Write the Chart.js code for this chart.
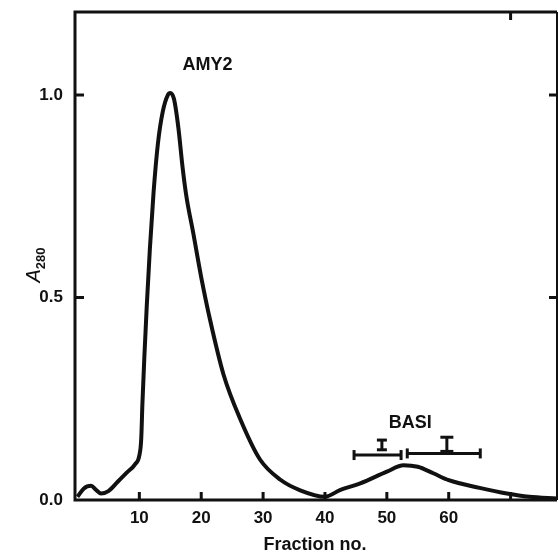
<!DOCTYPE html>
<html>
<head>
<meta charset="utf-8">
<script src="https://cdn.jsdelivr.net/npm/chart.js@4.4.1/dist/chart.umd.min.js"></script>
<style>
  html, body { margin: 0; padding: 0; background: #fff; }
  #wrap { width: 558px; height: 554px; }
</style>
</head>
<body>
<div id="wrap"><canvas id="chart" width="558" height="554"></canvas></div>
<script>
// elution profile
const fractions = [0, 1, 2.2, 3.0, 3.8, 5, 6.5, 8, 9.3, 10, 10.3, 10.5, 10.8, 11.2, 11.7, 12.3, 13.0, 13.8, 14.6, 15.0, 15.6, 16.3, 17.0, 17.6, 18.7, 20.0, 21.5, 23.6, 26.3, 29.5, 32.8, 36, 40, 42.5, 45.7, 50, 52.7, 55, 57.5, 60, 65, 69.4, 73, 77.5];
const absorbance = [0.008, 0.028, 0.035, 0.025, 0.016, 0.022, 0.045, 0.068, 0.088, 0.11, 0.15, 0.24, 0.35, 0.48, 0.62, 0.76, 0.88, 0.96, 1.0, 1.005, 0.99, 0.92, 0.82, 0.75, 0.66, 0.55, 0.44, 0.31, 0.2, 0.1, 0.05, 0.024, 0.008, 0.025, 0.041, 0.07, 0.086, 0.082, 0.066, 0.049, 0.03, 0.016, 0.008, 0.004];

const xTickValues = [10, 20, 30, 40, 50, 60, 70];
const xTickLabels = ['10', '20', '30', '40', '50', '60', ''];
const yTickValues = [0, 0.5, 1.0];
const yTickLabels = ['0.0', '0.5', '1.0'];
const yInnerTicks = [0.5, 1.0];
const topInnerTicks = [70];

// pooled fractions (bars) and activity markers above BASI
const poolLeftX = [44.7, 52.3];
const poolLeftY = [0.111, 0.111];
const poolRightX = [53.3, 65.1];
const poolRightY = [0.115, 0.115];
const markLeftX = [49.2, 49.2];
const markLeftY = [0.124, 0.148];
const markRightX = [59.7, 59.7];
const markRightY = [0.12, 0.155];

const peakNames = ['AMY2', 'BASI'];
const peakNameX = [21, 53.8];
const peakNameY = [1.075, 0.19];

const FONT = '"Liberation Sans", Arial, sans-serif';
const INK = '#111';

function pts(xs, ys) {
    return xs.map((x, i) => ({ x: x, y: ys[i] }));
}

// рамка, внутренние засечки и подписи
const framePlugin = {
    id: 'frame',
    afterDatasetsDraw(chart) {
        const ctx = chart.ctx;
        const a = chart.chartArea;
        const xs = chart.scales.x;
        const ys = chart.scales.y;
        ctx.save();
        ctx.strokeStyle = INK;
        ctx.lineCap = 'butt';

        // left + bottom + top
        ctx.lineWidth = 3;
        ctx.beginPath();
        ctx.moveTo(a.left, a.top);
        ctx.lineTo(a.left, a.bottom);
        ctx.lineTo(a.right, a.bottom);
        ctx.moveTo(a.left - 1.5, a.top);
        ctx.lineTo(a.right, a.top);
        ctx.stroke();
        // right side, thinner
        ctx.lineWidth = 2;
        ctx.beginPath();
        ctx.moveTo(a.right, a.top);
        ctx.lineTo(a.right, a.bottom);
        ctx.stroke();

        ctx.lineWidth = 3;
        ctx.beginPath();
        xTickValues.forEach(v => {
            const px = xs.getPixelForValue(v);
            ctx.moveTo(px, a.bottom);
            ctx.lineTo(px, a.bottom - 8);
        });
        topInnerTicks.forEach(v => {
            const px = xs.getPixelForValue(v);
            ctx.moveTo(px, a.top);
            ctx.lineTo(px, a.top + 8);
        });
        yInnerTicks.forEach(v => {
            const py = ys.getPixelForValue(v);
            ctx.moveTo(a.left, py);
            ctx.lineTo(a.left + 9, py);
            ctx.moveTo(a.right, py);
            ctx.lineTo(a.right - 8, py);
        });
        ctx.stroke();

        // peak names
        ctx.fillStyle = INK;
        ctx.textAlign = 'center';
        ctx.textBaseline = 'middle';
        ctx.font = 'bold 18px ' + FONT;
        peakNames.forEach((name, i) => {
            ctx.fillText(name, xs.getPixelForValue(peakNameX[i]), ys.getPixelForValue(peakNameY[i]));
        });

        // x title
        ctx.fillText('Fraction no.', 315, 545);

        // y title A280
        ctx.translate(33, 265);
        ctx.rotate(-Math.PI / 2);
        ctx.textAlign = 'left';
        ctx.textBaseline = 'alphabetic';
        ctx.font = 'italic 20px ' + FONT;
        const wA = ctx.measureText('A').width;
        ctx.font = 'bold 13px ' + FONT;
        const wS = ctx.measureText('280').width;
        const x0 = -(wA + wS) / 2;
        ctx.font = 'italic 20px ' + FONT;
        ctx.fillText('A', x0, 7);
        ctx.font = 'bold 13px ' + FONT;
        ctx.fillText('280', x0 + wA, 12);
        ctx.restore();
    }
};

const ctx = document.getElementById('chart').getContext('2d');

const barStyle = {
    borderColor: INK,
    backgroundColor: INK,
    borderWidth: 3,
    pointStyle: 'line',
    pointRotation: 90,
    pointRadius: 5,
    pointBorderWidth: 3,
    showLine: true,
    tension: 0
};

const markStyle = {
    borderColor: INK,
    backgroundColor: INK,
    borderWidth: 3,
    pointStyle: 'line',
    pointRotation: 0,
    pointBorderWidth: 3,
    showLine: true,
    tension: 0
};

new Chart(ctx, {
    type: 'line',
    data: {
        datasets: [
            {
                data: pts(fractions, absorbance),
                borderColor: INK,
                borderWidth: 4,
                pointRadius: 0,
                cubicInterpolationMode: 'monotone',
                fill: false
            },
            Object.assign({ data: pts(poolLeftX, poolLeftY) }, barStyle),
            Object.assign({ data: pts(poolRightX, poolRightY) }, barStyle),
            Object.assign({ data: pts(markLeftX, markLeftY), pointRadius: 5 }, markStyle),
            Object.assign({ data: pts(markRightX, markRightY), pointRadius: 6.5, borderWidth: 5 }, markStyle)
        ]
    },
    options: {
        responsive: false,
        animation: false,
        layout: { autoPadding: false, padding: { top: 12, right: 1, left: 0, bottom: 0 } },
        plugins: {
            legend: { display: false },
            tooltip: { enabled: false }
        },
        scales: {
            x: {
                type: 'linear',
                min: -0.4,
                max: 77.5,
                grid: { display: false, drawTicks: false },
                border: { display: false },
                afterBuildTicks: s => { s.ticks = xTickValues.map(v => ({ value: v })); },
                afterFit: s => {
                    s.height = 54;
                    s.paddingLeft = 0;
                    s.paddingRight = 0;
                },
                ticks: {
                    padding: 8,
                    maxRotation: 0,
                    color: INK,
                    font: { family: FONT, size: 17, weight: 'bold' },
                    callback: (v, i) => xTickLabels[i]
                }
            },
            y: {
                type: 'linear',
                min: 0,
                max: 1.205,
                grid: { display: false, drawTicks: false },
                border: { display: false },
                afterBuildTicks: s => { s.ticks = yTickValues.map(v => ({ value: v })); },
                afterFit: s => {
                    s.width = 75;
                    s.paddingTop = 0;
                    s.paddingBottom = 0;
                },
                ticks: {
                    padding: 12,
                    color: INK,
                    font: { family: FONT, size: 17, weight: 'bold' },
                    callback: (v, i) => yTickLabels[i]
                }
            }
        }
    },
    plugins: [framePlugin]
});
</script>
</body>
</html>
